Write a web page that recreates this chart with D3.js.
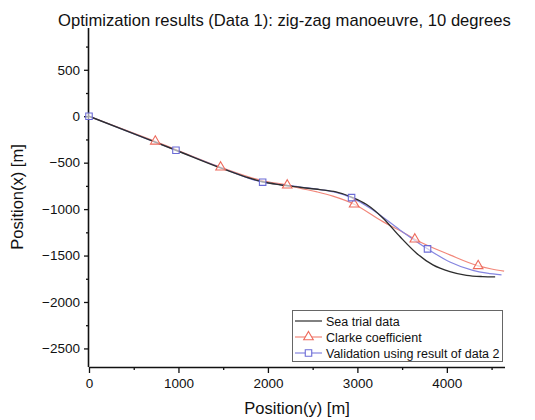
<!DOCTYPE html>
<html><head><meta charset="utf-8">
<script src="https://cdn.jsdelivr.net/npm/d3@7/dist/d3.min.js"></script>
<style>body{margin:0;background:#fff}svg{display:block}text{font-family:"Liberation Sans",Arial,sans-serif;fill:#111}</style>
</head><body><svg id="c" width="535" height="420"></svg>
<script>
const title = "Optimization results (Data 1): zig-zag manoeuvre, 10 degrees";
const xLabel = "Position(y) [m]";
const yLabel = "Position(x) [m]";
const xTicks = [0, 1000, 2000, 3000, 4000];
const yTicks = [500, 0, -500, -1000, -1500, -2000, -2500];
const seriesNames = ["Sea trial data", "Clarke coefficient", "Validation using result of data 2"];

const seaTrial = [[0,0],[490,-185],[972,-366],[1470,-556],[1800,-668],[1941,-706],[2134,-738],[2358,-765],[2581,-790],[2760,-815],[2935,-870],[3103,-950],[3285,-1095],[3475,-1296],[3661,-1475],[3844,-1601],[4034,-1673],[4220,-1714],[4400,-1727],[4540,-1730]];
const clarke = [[0,0],[741,-270],[1471,-549],[1941,-695],[2216,-743],[2358,-775],[2550,-815],[2726,-860],[2964,-947],[3285,-1135],[3475,-1231],[3642,-1324],[4034,-1493],[4350,-1611],[4500,-1645],[4640,-1668]];
const validation = [[0,0],[490,-185],[972,-366],[1470,-552],[1941,-710],[2134,-736],[2358,-762],[2581,-790],[2760,-820],[2935,-876],[3173,-1009],[3475,-1224],[3784,-1428],[4034,-1570],[4291,-1660],[4450,-1690],[4611,-1708]];
const clarkeMarkers = [[741,-270],[1471,-549],[2216,-743],[2964,-947],[3642,-1324],[4350,-1611]];
const validationMarkers = [[0,0],[972,-366],[1941,-710],[2935,-876],[3784,-1428]];

const colors = ["#2e2e2e", "#f2877a", "#8585e0"];
const markerColors = ["#2e2e2e", "#ee6a5c", "#6b6bd6"];

const svg = d3.select("#c");
const x = d3.scaleLinear().domain([0, 4650]).range([89, 505]);
const y = d3.scaleLinear().domain([-2700, 950]).range([367, 28]);

svg.append("text").attr("x", 58).attr("y", 26).attr("font-size", 16.6).text(title);

// axes
const xAxis = d3.axisBottom(x).tickValues(xTicks).tickSize(6).tickPadding(5).tickFormat(d3.format("d"));
const xMinor = d3.axisBottom(x).tickValues(d3.range(500, 4650, 1000)).tickSize(3).tickFormat("");
const yAxis = d3.axisLeft(y).tickValues(yTicks).tickSize(5).tickPadding(4).tickFormat(d3.format("d"));
const yMinor = d3.axisLeft(y).tickValues(d3.range(-2750, 950, 500).filter(v=>v>=-2700)).tickSize(3).tickFormat("");

function styleAxis(g){
  g.select(".domain").attr("stroke","#111").attr("stroke-width",1.6);
  g.selectAll(".tick line").attr("stroke","#111").attr("stroke-width",1.3);
  g.selectAll(".tick text").attr("font-size",13.5).attr("font-family","Liberation Sans, Arial, sans-serif").attr("fill","#111");
}
svg.append("g").attr("transform","translate(0,367)").call(xMinor).call(styleAxis).select(".domain").remove();
svg.append("g").attr("transform","translate(89,0)").call(yMinor).call(styleAxis).select(".domain").remove();
svg.append("g").attr("transform","translate(0,367)").call(xAxis).call(g=>{styleAxis(g); g.select(".domain").attr("d","M89.5,0.5H505");});
svg.append("g").attr("transform","translate(89,0)").call(yAxis).call(g=>{styleAxis(g); g.select(".domain").attr("d","M-0.5,367H-0.5V28");});

svg.append("text").attr("x", 297).attr("y", 414).attr("text-anchor","middle").attr("font-size",16.5).text(xLabel);
svg.append("text").attr("transform","translate(23,197) rotate(-90)").attr("text-anchor","middle").attr("font-size",16.5).text(yLabel);

const line = d3.line().x(d=>x(d[0])).y(d=>y(d[1])).curve(d3.curveMonotoneX);
const data = [seaTrial, clarke, validation];
[1,2,0].forEach(i=>{
  svg.append("path").attr("d", line(data[i])).attr("fill","none").attr("stroke",colors[i]).attr("stroke-width", i===0?1.4:1.2);
});

const tri = d3.symbol().type(d3.symbolTriangle).size(40);
const sq = d3.symbol().type(d3.symbolSquare).size(42);
svg.selectAll(".tri").data(clarkeMarkers).join("path").attr("class","tri")
  .attr("d", tri).attr("transform", d=>`translate(${x(d[0])},${y(d[1])})`)
  .attr("fill","#fff").attr("fill-opacity",0.6).attr("stroke",markerColors[1]).attr("stroke-width",1.1);
svg.selectAll(".sq").data(validationMarkers).join("path").attr("class","sq")
  .attr("d", sq).attr("transform", d=>`translate(${x(d[0])},${y(d[1])})`)
  .attr("fill","#fff").attr("fill-opacity",0.6).attr("stroke",markerColors[2]).attr("stroke-width",1.1);

// legend
const lg = svg.append("g");
lg.append("rect").attr("x",292.5).attr("y",310.5).attr("width",210).attr("height",51).attr("fill","#fff").attr("stroke","#666").attr("stroke-width",1);
seriesNames.forEach((name,i)=>{
  const yy = 321 + i*16;
  lg.append("line").attr("x1",295).attr("x2",322).attr("y1",yy).attr("y2",yy).attr("stroke",colors[i]).attr("stroke-width",1.2);
  if(i===1) lg.append("path").attr("d",tri).attr("transform",`translate(308.5,${yy})`).attr("fill","#fff").attr("stroke",markerColors[1]).attr("stroke-width",1.1);
  if(i===2) lg.append("path").attr("d",sq).attr("transform",`translate(308.5,${yy})`).attr("fill","#fff").attr("stroke",markerColors[2]).attr("stroke-width",1.1);
  lg.append("text").attr("x",326).attr("y",yy+4.5).attr("font-size",12.5).text(name);
});
</script></body></html>
